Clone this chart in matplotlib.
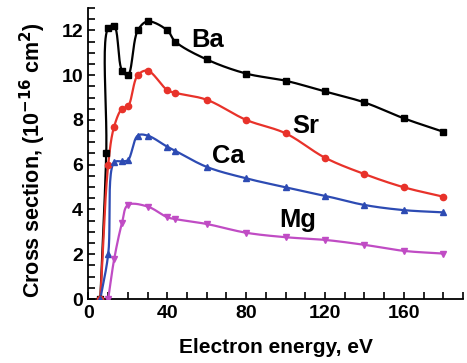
import numpy as np
import matplotlib
matplotlib.use("Agg")
import matplotlib.pyplot as plt
from matplotlib.ticker import MultipleLocator

# ---- data ----
ba_e = [6, 9, 10, 13, 17, 20, 25, 30, 40, 44, 60, 80, 100, 120, 140, 160, 180]
ba_v = [0, 6.5, 12.1, 12.2, 10.2, 10.0, 12.0, 12.4, 12.0, 11.5, 10.7, 10.07, 9.75, 9.27, 8.78, 8.07, 7.47]

sr_e = [6, 10, 13, 17, 20, 25, 30, 40, 44, 60, 80, 100, 120, 140, 160, 180]
sr_v = [0, 6.0, 7.7, 8.5, 8.6, 10.0, 10.2, 9.33, 9.21, 8.9, 8.0, 7.4, 6.31, 5.58, 4.99, 4.57]

ca_e = [6, 10, 13, 17, 20, 25, 30, 40, 44, 60, 80, 100, 120, 140, 160, 180]
ca_v = [0, 2.0, 6.1, 6.15, 6.2, 7.3, 7.3, 6.8, 6.62, 5.9, 5.39, 4.99, 4.61, 4.2, 3.97, 3.87]

mg_e = [10, 13, 17, 20, 30, 40, 44, 60, 80, 100, 120, 140, 160, 180]
mg_v = [0, 1.77, 3.4, 4.2, 4.13, 3.65, 3.57, 3.35, 2.96, 2.76, 2.64, 2.42, 2.15, 2.03]

labels = ["Ba", "Sr", "Ca", "Mg"]
xticks = [0, 40, 80, 120, 160]
yticks = [0, 2, 4, 6, 8, 10, 12]

XMAX, YMAX = 190, 13.0


def smooth(x, y, sx, sy, n=24):
    """Centripetal Catmull-Rom curve through the data points (scaled space)."""
    P = np.column_stack([np.asarray(x, float) * sx, np.asarray(y, float) * sy])
    P = np.vstack([2 * P[0] - P[1], P, 2 * P[-1] - P[-2]])
    out = []
    for i in range(1, len(P) - 2):
        p0, p1, p2, p3 = P[i - 1], P[i], P[i + 1], P[i + 2]
        def tj(ti, a, b):
            return ti + max(np.linalg.norm(b - a), 1e-9) ** 0.5
        t0 = 0.0
        t1 = tj(t0, p0, p1)
        t2 = tj(t1, p1, p2)
        t3 = tj(t2, p2, p3)
        t = np.linspace(t1, t2, n)[:, None]
        A1 = (t1 - t) / (t1 - t0) * p0 + (t - t0) / (t1 - t0) * p1
        A2 = (t2 - t) / (t2 - t1) * p1 + (t - t1) / (t2 - t1) * p2
        A3 = (t3 - t) / (t3 - t2) * p2 + (t - t2) / (t3 - t2) * p3
        B1 = (t2 - t) / (t2 - t0) * A1 + (t - t0) / (t2 - t0) * A2
        B2 = (t3 - t) / (t3 - t1) * A2 + (t - t1) / (t3 - t1) * A3
        C = (t2 - t) / (t2 - t1) * B1 + (t - t1) / (t2 - t1) * B2
        out.append(C if i == 1 else C[1:])
    C = np.vstack(out)
    return C[:, 0] / sx, C[:, 1] / sy


plt.rcParams['font.family'] = ['Liberation Sans', 'DejaVu Sans']
plt.rcParams['font.weight'] = 'bold'
plt.rcParams['mathtext.default'] = 'bf'

fig = plt.figure(figsize=(4.67, 3.63), dpi=100)
ax = fig.add_axes([0.1895, 0.1763, 0.802, 0.8017])

sx, sy = 1.964, 22.4
series = [
    (ba_e, ba_v, "black", "s", 4.5),
    (sr_e, sr_v, "#e8322a", "o", 4.5),
    (ca_e, ca_v, "#2d4bb3", "^", 5),
    (mg_e, mg_v, "#c04cc4", "v", 5),
]
for e, v, c, m, ms in series:
    xs, ys = smooth(e, v, sx, sy)
    ax.plot(xs, ys, color=c, lw=1.6, zorder=2)
    ax.plot(e, v, ls="none", marker=m, color=c, ms=ms, zorder=3)

lab_pos = [(60.6, 11.26), (110, 7.4), (71, 6.07), (106, 3.21)]
for lab, (x, y) in zip(labels, lab_pos):
    ax.text(x, y, lab, ha="center", va="baseline", fontsize=18.4, fontweight="bold")

ax.set_xlim(0, XMAX)
ax.set_ylim(0, YMAX)
ax.set_xticks(xticks)
ax.set_yticks(yticks)
ax.xaxis.set_minor_locator(MultipleLocator(10))
ax.yaxis.set_minor_locator(MultipleLocator(0.5))
ax.tick_params(which="both", direction="in", width=1.2, labelsize=14, top=False, right=False)
ax.tick_params(which="major", length=5, pad=4)
ax.tick_params(which="minor", length=5)
for lbl in ax.get_xticklabels() + ax.get_yticklabels():
    lbl.set_fontweight("bold")
ax.spines["top"].set_visible(False)
ax.spines["right"].set_visible(False)
ax.spines["left"].set_linewidth(1.3)
ax.spines["bottom"].set_linewidth(1.3)

ax.set_xlabel("Electron energy, eV", fontsize=15, fontweight="bold", labelpad=12)
ax.set_ylabel(r"Cross section, (10$^{-16}$ cm$^{2}$)", fontsize=15.5, fontweight="bold")
ax.yaxis.set_label_coords(-0.108, 0.478)

fig.savefig("out.png", dpi=100)
